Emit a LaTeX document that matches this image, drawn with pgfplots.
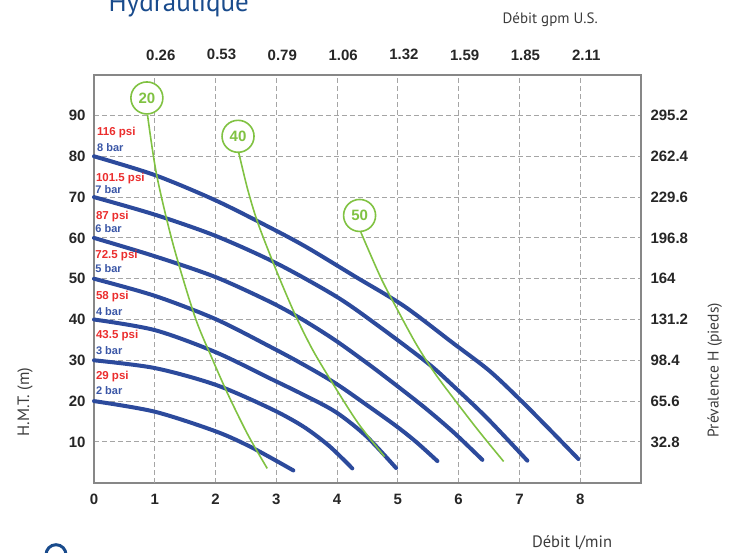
\documentclass[border=0pt]{standalone}
\usepackage{pgfplots}
\pgfplotsset{compat=1.18}
\usepackage{fontspec}
\setmainfont{Liberation Sans}
\newfontfamily\myriad{PT Sans}

\definecolor{pumpblue}{RGB}{44,74,156}
\definecolor{effgreen}{RGB}{128,194,66}
\definecolor{psired}{RGB}{235,45,45}
\definecolor{barblue}{RGB}{58,86,166}
\definecolor{gridgray}{RGB}{165,165,165}
\definecolor{framegray}{RGB}{135,135,135}
\definecolor{titleblue}{RGB}{25,75,140}
\definecolor{tealgrid}{RGB}{125,175,185}
\definecolor{labgray}{RGB}{60,60,60}

\begin{document}
\begin{tikzpicture}
\pgfplotsset{
  base/.style={at={(0,0)}, anchor=south west, scale only axis,
    width=547pt, height=408pt, xmin=0, xmax=9, ymin=0, ymax=100,
    major tick length=0pt,
    /pgf/number format/assume math mode=true,
    tick label style={font=\fontsize{15}{15}\selectfont\bfseries, text=black!85}},
}
\tikzset{
  psi/.style={anchor=west, text=psired, font=\fontsize{11.5}{11.5}\selectfont\bfseries, inner sep=0pt},
  bar/.style={anchor=west, text=barblue, font=\fontsize{11}{11}\selectfont\bfseries, inner sep=0pt},
  eff/.style={circle, draw=effgreen, fill=white, line width=1.6pt, minimum size=32pt,
    inner sep=0pt, text=effgreen, font=\fontsize{15}{15}\selectfont\bfseries},
  pump/.style={pumpblue, line width=4pt, smooth, line cap=round},
  iso/.style={effgreen, line width=1.6pt, smooth},
}
\begin{axis}[base,
  axis line style={framegray, line width=2pt},
  xtick={0,2,3,...,8}, ytick={10,20,...,90},
  extra x ticks={1}, extra x tick labels={1},
  extra x tick style={grid style={tealgrid, dash pattern=on 5pt off 3pt, line width=0.9pt}},
  grid=major,
  major grid style={gridgray, dash pattern=on 5pt off 3pt, line width=0.9pt},
  xticklabel style={yshift=-8pt},
  yticklabel style={xshift=-5pt},
  clip=false,
  ylabel={H.M.T. (m)},
  ylabel style={font=\myriad\fontsize{16.5}{16.5}\selectfont, text=labgray,
    at={(axis description cs:-0.126,0.198)}, anchor=center},
  xlabel={Débit l/min},
  xlabel style={font=\myriad\fontsize{16.5}{16.5}\selectfont, text=labgray,
    at={(axis description cs:0.874,-0.148)}, anchor=center},
]
% courbes de pression (bar)
\addplot[pump] coordinates {(0,20) (1,17.4) (2,12.6) (2.6,8.6) (3.28,3.0)};
\addplot[pump] coordinates {(0,30) (1,28.1) (2,24.0) (2.9,18.2) (3.44,13.8) (3.87,9.0) (4.25,3.5)};
\addplot[pump] coordinates {(0,40) (1,37.4) (2,32.0) (2.89,25.6) (3.44,21.6) (3.98,17.3) (4.48,11.4) (4.97,3.6)};
\addplot[pump] coordinates {(0,50) (1,45.8) (2,40.1) (2.89,33.4) (3.44,29.0) (3.98,24.3) (4.53,18.6) (4.98,13.8) (5.3,10) (5.65,5.3)};
\addplot[pump] coordinates {(0,60) (1,55.5) (2,50.4) (2.9,44.3) (3.44,39.9) (3.98,34.8) (4.53,28.9) (4.98,23.8) (5.45,18.3) (5.92,12.3) (6.39,5.6)};
\addplot[pump] coordinates {(0,70) (1,65.7) (2,60.5) (3,53.8) (4,45.5) (4.7,38.2) (5.5,29.2) (5.92,23.6) (6.47,15.8) (7.13,5.4)};
\addplot[pump] coordinates {(0,80) (1,75.4) (2,69.2) (2.9,62.5) (3.5,57.7) (4.3,50.5) (5.1,43.3) (5.9,34.3) (6.5,27.5) (7.0,20.5) (7.5,13.0) (7.97,5.8)};
% courbes de consommation d'air
\addplot[iso] coordinates {(0.88,90.2) (1.03,75.5) (1.3,58.5) (1.66,40.7) (1.93,30.9) (2.2,21.8) (2.53,11.8) (2.85,3.5)};
\addplot[iso] coordinates {(2.38,81) (2.53,71.8) (2.7,63.5) (3.0,52) (3.3,41.5) (3.6,32.5) (3.95,23.8) (4.35,14.5) (4.78,6.4)};
\addplot[iso] coordinates {(4.39,61.4) (4.72,50.2) (5.0,42.2) (5.3,34.0) (5.6,27.0) (5.95,20.0) (6.35,12.3) (6.74,5.2)};
\node[eff] at (axis cs:0.87,94.3) {20};
\node[eff] at (axis cs:2.37,84.9) {40};
\node[eff] at (axis cs:4.37,65.5) {50};
% étiquettes
\node[psi] at (axis cs:0.05,85.8) {116 psi};
\node[bar] at (axis cs:0.05,82.2) {8 bar};
\node[psi] at (axis cs:0.03,74.5) {101.5 psi};
\node[bar] at (axis cs:0.02,71.8) {7 bar};
\node[psi] at (axis cs:0.03,65.3) {87 psi};
\node[bar] at (axis cs:0.02,62.2) {6 bar};
\node[psi] at (axis cs:0.02,55.7) {72.5 psi};
\node[bar] at (axis cs:0.02,52.4) {5 bar};
\node[psi] at (axis cs:0.03,45.6) {58 psi};
\node[bar] at (axis cs:0.03,42.0) {4 bar};
\node[psi] at (axis cs:0.03,36.1) {43.5 psi};
\node[bar] at (axis cs:0.03,32.4) {3 bar};
\node[psi] at (axis cs:0.03,26.0) {29 psi};
\node[bar] at (axis cs:0.03,22.5) {2 bar};
\end{axis}
\begin{axis}[base,
  axis x line*=top, axis y line*=right,
  axis line style={draw=none},
  xtick={1,...,8},
  xticklabels={0.26,0.53,0.79,1.06,1.32,1.59,1.85,2.11},
  ytick={10,20,...,90},
  yticklabels={32.8,65.6,98.4,131.2,164,196.8,229.6,262.4,295.2},
  xticklabel style={yshift=11pt, xshift=6pt},
  yticklabel style={xshift=6pt},
  ylabel={Prévalence H (pieds)},
  ylabel style={font=\myriad\fontsize{15.5}{15.5}\selectfont, text=labgray,
    at={(axis description cs:1.135,0.276)}, anchor=center},
  xlabel={Débit gpm U.S.},
  xlabel style={font=\myriad\fontsize{15}{15}\selectfont, text=labgray,
    at={(axis description cs:0.834,1.134)}, anchor=center},
]
\end{axis}
\node[anchor=base west, font=\myriad\fontsize{27}{27}\selectfont, text=titleblue] at (11pt,470.7pt) {Hydraulique};
\draw[titleblue, line width=3pt] (-38pt,-72pt) circle (10pt);
\pgfresetboundingbox
\path[use as bounding box] (-94pt,-70.3pt) rectangle (635pt,482.7pt);
\end{tikzpicture}
\end{document}
